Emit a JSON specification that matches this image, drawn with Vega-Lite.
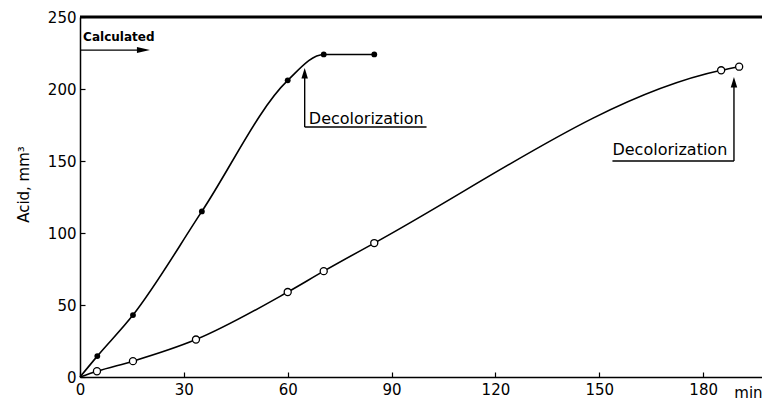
{
  "$schema": "https://vega.github.io/schema/vega-lite/v6.json",
  "autosize": {"type": "none"},
  "padding": {"left": 80, "top": 17, "right": 0, "bottom": 24},
  "width": 682,
  "height": 360,
  "background": "white",
  "config": {
    "view": {"stroke": null},
    "font": "DejaVu Sans",
    "axis": {
      "domainColor": "black",
      "domainWidth": 1.5,
      "tickColor": "black",
      "tickWidth": 1.2,
      "tickSize": -5,
      "grid": false,
      "labelFlush": false,
      "labelFont": "DejaVu Sans",
      "labelFontSize": 15,
      "labelColor": "black",
      "titleColor": "black"
    }
  },
  "datasets": {
    "curves": [
      {"series": "filled", "t": 0, "acid": 0, "marked": false},
      {"series": "filled", "t": 5, "acid": 14.5, "marked": true},
      {"series": "filled", "t": 15.3, "acid": 43, "marked": true},
      {"series": "filled", "t": 35.2, "acid": 115, "marked": true},
      {"series": "filled", "t": 60, "acid": 206, "marked": true},
      {"series": "filled", "t": 70.4, "acid": 224, "marked": true},
      {"series": "filled", "t": 85, "acid": 224, "marked": true},
      {"series": "open", "t": 0, "acid": 0, "marked": false},
      {"series": "open", "t": 4.9, "acid": 4, "marked": true},
      {"series": "open", "t": 15.3, "acid": 11, "marked": true},
      {"series": "open", "t": 33.5, "acid": 26, "marked": true},
      {"series": "open", "t": 60, "acid": 59, "marked": true},
      {"series": "open", "t": 70.4, "acid": 73.5, "marked": true},
      {"series": "open", "t": 85, "acid": 93, "marked": true},
      {"series": "open", "t": 185.2, "acid": 213, "marked": true},
      {"series": "open", "t": 190.4, "acid": 215.5, "marked": true}
    ],
    "segments": [
      {"t": 0, "t2": 17, "acid": 227, "acid2": 227},
      {"t": 64.9, "t2": 64.9, "acid": 173.6, "acid2": 210},
      {"t": 64.9, "t2": 100.1, "acid": 173.6, "acid2": 173.6},
      {"t": 188.9, "t2": 188.9, "acid": 150, "acid2": 204},
      {"t": 153.8, "t2": 188.9, "acid": 150, "acid2": 150}
    ],
    "heads": [
      {"t": 20.2, "acid": 227, "dir": "right"},
      {"t": 64.9, "acid": 214.6, "dir": "up"},
      {"t": 188.9, "acid": 208.3, "dir": "up"}
    ],
    "labels": [
      {"t": 66.1, "acid": 179.2, "text": "Decolorization"},
      {"t": 153.8, "acid": 157.6, "text": "Decolorization"}
    ]
  },
  "layer": [
    {
      "data": {"values": [{"acid": 250}]},
      "mark": {"type": "rule", "color": "black", "strokeWidth": 3},
      "encoding": {"y": {"field": "acid", "type": "quantitative"}}
    },
    {
      "data": {"name": "curves"},
      "mark": {"type": "line", "interpolate": "monotone", "color": "black", "strokeWidth": 1.6},
      "encoding": {
        "x": {
          "field": "t", "type": "quantitative",
          "scale": {"domain": [0, 197], "nice": false, "zero": false},
          "axis": {"values": [0, 30, 60, 90, 120, 150, 180], "title": null, "labelPadding": 10}
        },
        "y": {
          "field": "acid", "type": "quantitative",
          "scale": {"domain": [0, 250], "nice": false},
          "axis": {
            "values": [0, 50, 100, 150, 200, 250],
            "title": "Acid, mm³",
            "titleFont": "DejaVu Sans",
            "titleFontSize": 15,
            "titleFontWeight": "normal",
            "titleX": -57,
            "titleY": 167,
            "titleAlign": "center",
            "titleBaseline": "middle",
            "titleAngle": -90,
            "labelPadding": 9
          }
        },
        "detail": {"field": "series"}
      }
    },
    {
      "data": {"name": "curves"},
      "transform": [{"filter": "datum.series == 'filled' && datum.marked"}],
      "mark": {"type": "point", "filled": true, "color": "black", "size": 34, "opacity": 1},
      "encoding": {
        "x": {"field": "t", "type": "quantitative"},
        "y": {"field": "acid", "type": "quantitative"}
      }
    },
    {
      "data": {"name": "curves"},
      "transform": [{"filter": "datum.series == 'open' && datum.marked"}],
      "mark": {"type": "point", "filled": true, "fill": "white", "stroke": "black", "strokeWidth": 1.3, "size": 50, "opacity": 1},
      "encoding": {
        "x": {"field": "t", "type": "quantitative"},
        "y": {"field": "acid", "type": "quantitative"}
      }
    },
    {
      "data": {"name": "segments"},
      "mark": {"type": "rule", "color": "black", "strokeWidth": 1.4},
      "encoding": {
        "x": {"field": "t", "type": "quantitative"},
        "x2": {"field": "t2"},
        "y": {"field": "acid", "type": "quantitative"},
        "y2": {"field": "acid2"}
      }
    },
    {
      "data": {"name": "heads"},
      "mark": {"type": "point", "filled": true, "color": "black", "size": 100, "opacity": 1},
      "encoding": {
        "x": {"field": "t", "type": "quantitative"},
        "y": {"field": "acid", "type": "quantitative"},
        "shape": {
          "field": "dir", "type": "nominal",
          "scale": {"domain": ["up", "right"], "range": ["M0,0L0.65,2.1L-0.65,2.1Z", "M0,0L-2.6,-0.6L-2.6,0.6Z"]},
          "legend": null
        }
      }
    },
    {
      "data": {"name": "labels"},
      "mark": {"type": "text", "align": "left", "baseline": "middle", "font": "DejaVu Sans", "fontSize": 16, "color": "black"},
      "encoding": {
        "x": {"field": "t", "type": "quantitative"},
        "y": {"field": "acid", "type": "quantitative"},
        "text": {"field": "text"}
      }
    },
    {
      "data": {"values": [{"t": 0.9, "acid": 236, "text": "Calculated"}]},
      "mark": {"type": "text", "align": "left", "baseline": "middle", "font": "DejaVu Sans", "fontSize": 12, "fontWeight": "bold", "color": "black"},
      "encoding": {
        "x": {"field": "t", "type": "quantitative"},
        "y": {"field": "acid", "type": "quantitative"},
        "text": {"field": "text"}
      }
    },
    {
      "data": {"values": [{"t": 189, "acid": 0, "text": "min"}]},
      "mark": {"type": "text", "align": "left", "baseline": "middle", "dy": 16, "font": "DejaVu Sans", "fontSize": 15, "color": "black"},
      "encoding": {
        "x": {"field": "t", "type": "quantitative"},
        "y": {"field": "acid", "type": "quantitative"},
        "text": {"field": "text"}
      }
    }
  ]
}
